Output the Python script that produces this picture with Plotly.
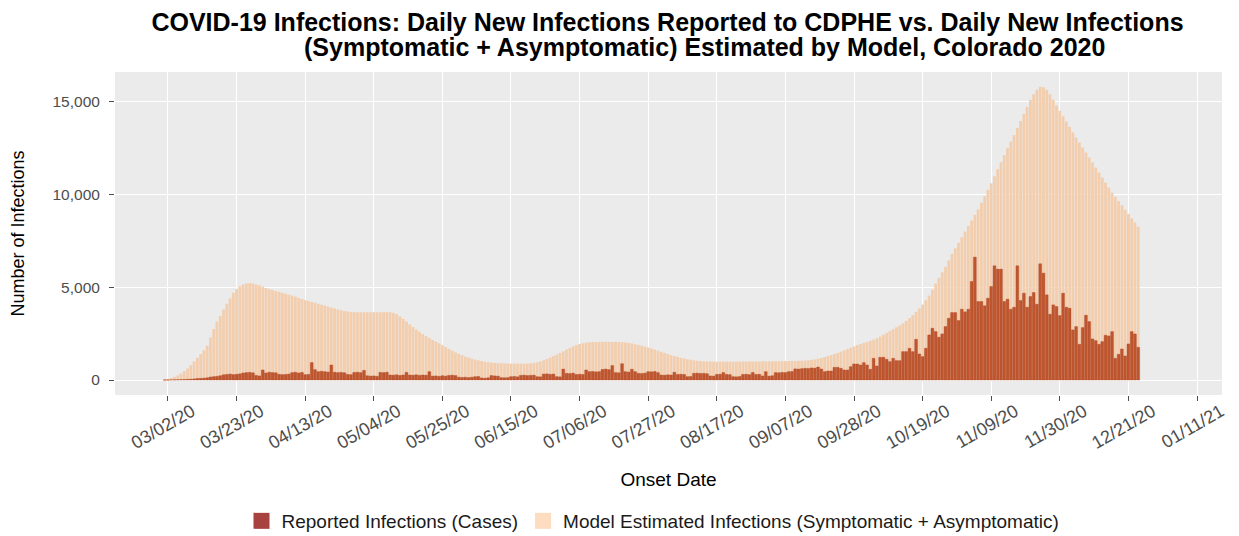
import pandas as pd
import plotly.graph_objects as go

# Daily series, one row per week starting Sunday 2020-03-01
start_date = "2020-03-01"

model_estimated = [
    30, 60, 110, 170, 250, 350, 480,
    620, 800, 1000, 1200, 1400, 1600, 1850,
    2300, 2750, 3150, 3450, 3800, 4100, 4400,
    4700, 4900, 5050, 5150, 5200, 5220, 5200,
    5150, 5100, 5030, 4960, 4900, 4850, 4800,
    4750, 4700, 4650, 4600, 4550, 4500, 4420,
    4370, 4310, 4260, 4210, 4160, 4110, 4060,
    4010, 3960, 3910, 3860, 3810, 3760, 3720,
    3690, 3670, 3660, 3650, 3650, 3650, 3650,
    3650, 3650, 3650, 3650, 3660, 3660, 3650,
    3620, 3550, 3430, 3300, 3150, 3000, 2860,
    2720, 2600, 2480, 2370, 2260, 2160, 2070,
    1980, 1880, 1780, 1680, 1580, 1490, 1410,
    1340, 1270, 1210, 1150, 1100, 1060, 1020,
    990, 960, 940, 920, 910, 900, 895,
    890, 890, 885, 885, 885, 885, 890,
    900, 920, 950, 1000, 1060, 1130, 1210,
    1290, 1380, 1460, 1550, 1640, 1730, 1810,
    1880, 1940, 1980, 2010, 2030, 2045, 2050,
    2055, 2060, 2060, 2060, 2060, 2055, 2050,
    2040, 2025, 2000, 1970, 1930, 1890, 1850,
    1800, 1750, 1700, 1640, 1580, 1520, 1460,
    1400, 1340, 1290, 1240, 1200, 1160, 1120,
    1090, 1060, 1040, 1020, 1010, 1000, 995,
    990, 990, 990, 990, 990, 990, 990,
    990, 990, 995, 995, 1000, 1000, 1000,
    1000, 1005, 1005, 1010, 1010, 1010, 1015,
    1015, 1020, 1020, 1025, 1030, 1035, 1040,
    1050, 1065, 1085, 1110, 1150, 1190, 1240,
    1290, 1340, 1400, 1460, 1530, 1600, 1670,
    1740, 1810, 1880, 1940, 2000, 2050, 2110,
    2170, 2250, 2340, 2440, 2540, 2640, 2740,
    2840, 2940, 3050, 3190, 3340, 3500, 3670,
    3860, 4070, 4300, 4550, 4860, 5200, 5500,
    5800, 6100, 6450, 6800, 7100, 7400, 7700,
    8000, 8300, 8600, 8900, 9200, 9550, 9900,
    10250, 10600, 10980, 11360, 11740, 12120, 12500,
    12850, 13200, 13580, 13960, 14340, 14720, 15100,
    15400, 15650, 15800, 15780, 15650, 15400, 15100,
    14800, 14510, 14220, 13930, 13640, 13350, 13070,
    12800, 12530, 12260, 11990, 11720, 11450, 11180,
    10910, 10640, 10370, 10100, 9870, 9640, 9410,
    9180, 8950, 8720, 8490, 8260,
]

reported_cases = [
    0, 5, 8, 10, 15, 20, 25,
    35, 45, 60, 80, 90, 100, 120,
    160, 180, 200, 230, 280, 300, 320,
    290, 310, 330, 380, 400, 410, 390,
    250, 220, 540, 380, 420, 400, 390,
    310, 290, 300, 320, 400, 420, 380,
    410, 290, 300, 940, 560, 450, 470,
    450, 430, 810, 420, 400, 410, 390,
    300, 290, 410, 420, 400, 520, 230,
    210, 220, 200, 410, 400, 420, 270,
    260, 280, 250, 270, 410, 270, 260,
    280, 250, 270, 260, 450, 210, 220,
    200, 230, 210, 250, 260, 240, 150,
    140, 150, 130, 150, 180, 190, 110,
    100, 120, 240, 220, 210, 130, 120,
    130, 180, 190, 170, 250, 260, 240,
    250, 260, 180, 170, 320, 330, 310,
    320, 180, 170, 590, 360, 350, 370,
    300, 310, 300, 540, 450, 460, 440,
    450, 570, 590, 560, 780, 400, 390,
    880, 450, 430, 580, 450, 360, 350,
    370, 450, 440, 460, 400, 270, 260,
    280, 270, 420, 300, 310, 300, 180,
    190, 360, 370, 350, 360, 340, 220,
    210, 300, 310, 400, 300, 290, 180,
    170, 190, 300, 310, 290, 410, 300,
    310, 220, 450, 210, 230, 400, 390,
    410, 400, 450, 460, 600, 590, 610,
    630, 620, 650, 640, 700, 594, 450,
    486, 486, 684, 684, 630, 540, 540,
    720, 864, 864, 810, 936, 810, 576,
    1170, 756, 1224, 1224, 1116, 990, 1170,
    1044, 1044, 1530, 1530, 1710, 1530, 2196,
    1404, 1260, 1710, 2430, 2790, 2610, 2304,
    2484, 2880, 3330, 3636, 3636, 3204, 3816,
    3672, 3816, 5310, 6624, 4230, 4230, 4000,
    4410, 5040, 6156, 5976, 5976, 4230, 4356,
    3816, 3924, 6156, 4284, 4680, 3924, 4500,
    4716, 4086, 6264, 5760, 4590, 3546, 4050,
    3960, 3474, 4680, 3924, 3870, 2700, 2880,
    1926, 2826, 3492, 3150, 2214, 2124, 1926,
    2070, 2412, 2376, 2610, 1170, 1386, 1674,
    1296, 1944, 2610, 2484, 1764,
]

tick_dates = pd.date_range("2020-03-02", "2021-01-11", freq="21D")
tick_labels = [d.strftime("%m/%d/%y") for d in tick_dates]

y_ticks = [0, 5000, 10000, 15000]
y_tick_labels = ["0", "5,000", "10,000", "15,000"]

series_names = ["Reported Infections (Cases)",
                "Model Estimated Infections (Symptomatic + Asymptomatic)"]

title_line1 = "COVID-19 Infections: Daily New Infections Reported to CDPHE vs. Daily New Infections"
title_line2 = "(Symptomatic + Asymptomatic) Estimated by Model, Colorado 2020"

dates = pd.date_range(start_date, periods=len(model_estimated), freq="D")
DAY_MS = 86400000

MODEL_BAR = "#F3CEAE"
REPORTED_BAR = "#BF562E"
REPORTED_KEY = "#A8423F"
MODEL_KEY = "#FDDCBF"
FONT = "Liberation Sans, Arial, sans-serif"

# the page body adds an 8px offset, so the figure is 8px smaller than the window
W, H = 1231, 528
ML, MR, MT, MB = 107, 17, 64, 141
PW, PH = W - ML - MR, H - MT - MB

fig = go.Figure()
fig.add_trace(go.Bar(
    x=dates, y=model_estimated, width=0.86 * DAY_MS,
    marker=dict(color=MODEL_BAR, line=dict(width=0)),
    showlegend=False, hoverinfo="x+y",
))
fig.add_trace(go.Bar(
    x=dates, y=reported_cases, width=0.86 * DAY_MS,
    marker=dict(color=REPORTED_BAR, line=dict(width=0.4, color="#B04A28")),
    showlegend=False, hoverinfo="x+y",
))
# legend keys (no data, only the legend swatches)
fig.add_trace(go.Scatter(x=[None], y=[None], mode="markers", name=series_names[0],
                         marker=dict(symbol="square", size=22, color=REPORTED_KEY,
                                     line=dict(width=0))))
fig.add_trace(go.Scatter(x=[None], y=[None], mode="markers", name=series_names[1],
                         marker=dict(symbol="square", size=22, color=MODEL_KEY,
                                     line=dict(width=0))))

fig.update_layout(
    width=W, height=H,
    barmode="overlay",
    paper_bgcolor="white",
    plot_bgcolor="#EBEBEB",
    margin=dict(l=ML, r=MR, t=MT, b=MB, autoexpand=False),
    font=dict(family=FONT, color="#4D4D4D", size=16),
    title=dict(
        text="<b>" + title_line1 + "</b>",
        x=659.5 / W, xanchor="center", y=1 - 14 / H, yanchor="middle",
        font=dict(family=FONT, size=25, color="black"),
    ),
    legend=dict(
        orientation="h", x=0.486, xanchor="center",
        y=(H - MB - 513) / PH, yanchor="middle",
        font=dict(family=FONT, size=19, color="#1A1A1A"),
        itemsizing="trace", traceorder="normal",
    ),
    bargap=0.1,
    annotations=[dict(
        text="<b>" + title_line2 + "</b>",
        xref="paper", yref="paper",
        x=(696 - ML) / PW, xanchor="center",
        y=(H - MB - 39) / PH, yanchor="middle",
        showarrow=False,
        font=dict(family=FONT, size=25, color="black"),
    )],
)

fig.update_xaxes(
    type="date", automargin=False,
    range=["2020-02-14 18:43", "2021-01-18 15:36"],
    tickvals=list(tick_dates), ticktext=tick_labels,
    tickangle=-30, ticks="outside", ticklen=5, tickcolor="#4D4D4D",
    tickfont=dict(size=18, color="#4D4D4D"),
    ticklabelshift=24, ticklabelstandoff=-7,
    showgrid=True, gridcolor="white", gridwidth=1.2,
    zeroline=False, showline=False,
    title=dict(text="Onset Date", font=dict(size=19, color="black"), standoff=20),
)
fig.update_yaxes(
    automargin=False,
    range=[-808, 16601],
    tickvals=y_ticks, ticktext=y_tick_labels,
    ticks="outside", ticklen=5, tickcolor="#4D4D4D",
    tickfont=dict(size=15.5, color="#4D4D4D"),
    ticklabelstandoff=6,
    showgrid=True, gridcolor="white", gridwidth=1.2,
    zeroline=False, showline=False,
    title=dict(text="Number of Infections", font=dict(size=18, color="black"), standoff=24),
)

fig.write_html("out.html")
